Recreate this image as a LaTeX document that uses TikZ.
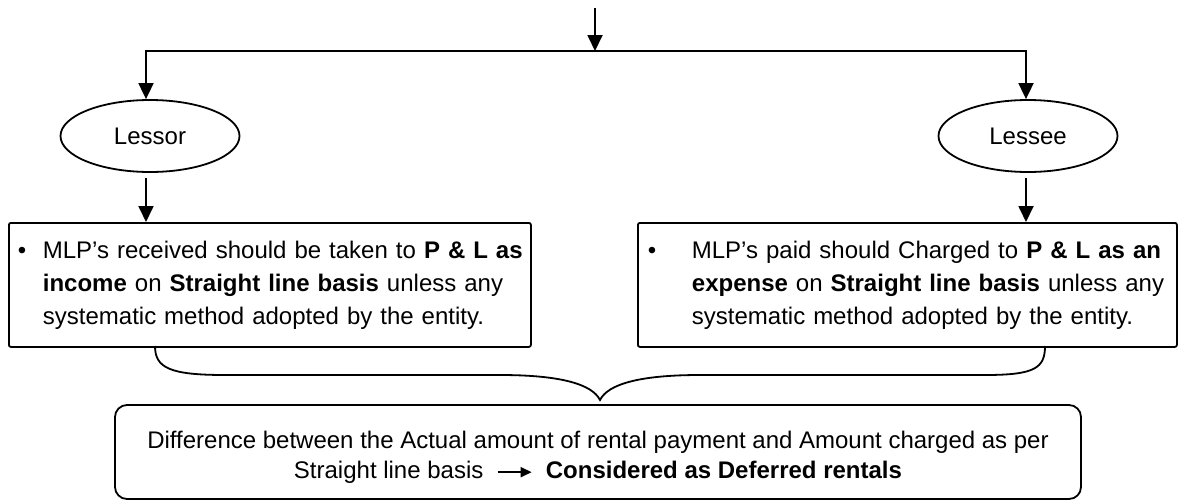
\documentclass[tikz,border=0pt]{standalone}
\usepackage{fontspec}
\setmainfont{Liberation Sans}
\usetikzlibrary{arrows.meta,shapes.geometric}
\begin{document}
\begin{tikzpicture}[x=1pt,y=-1pt,line width=1.8pt,
  arr/.style={-{Triangle[width=15pt,length=16pt]}},
  oval/.style={draw,ellipse,minimum width=179pt,minimum height=72pt,inner sep=0pt,font=\fontsize{24}{28}\selectfont},
  infobox/.style={draw,rounded corners=2pt,anchor=north west,inner ysep=0pt,align=left,minimum height=124pt,font=\fontsize{24}{33}\selectfont},
  resbox/.style={draw,rounded corners=12pt,minimum width=966pt,minimum height=94pt,align=center,font=\fontsize{24}{30}\selectfont}]
\useasboundingbox (0,0) rectangle (1178,501);

\coordinate (src) at (595,8);
\coordinate (jn) at (595,51);
\coordinate (jl) at (146,51);
\coordinate (jr) at (1026,51);

\node[oval] (lessor) at (150,136) {Lessor};
\node[oval] (lessee) at (1028,136) {Lessee};

\node[infobox,minimum width=522pt,text width=510pt,inner xsep=6pt] (lbox) at (8,222)
  {\makebox[28pt][l]{\hspace{3pt}\textbullet}\parbox[t]{480pt}{\raggedright MLP’s received should be taken to \textbf{P \& L as}\\
   \textbf{income} on \textbf{Straight line basis} unless any\\
   systematic method adopted by the entity.}};
\node[infobox,minimum width=539pt,text width=527pt,inner xsep=6pt] (rbox) at (637,222)
  {\makebox[48pt][l]{\hspace{4pt}\textbullet}\parbox[t]{478pt}{\raggedright MLP’s paid should Charged to \textbf{P \& L as an}\\
   \textbf{expense} on \textbf{Straight line basis} unless any\\
   systematic method adopted by the entity.}};

\node[resbox] (res) at (598,452)
  {\rule{0pt}{28pt}Difference between the Actual amount of rental payment and Amount charged as per\\
   Straight line basis\ \ \tikz[baseline=-0.5ex]\draw[line width=1.8pt,-{Triangle[width=10pt,length=11pt]}] (0pt,0pt) -- (34pt,0pt);\ \ \textbf{Considered as Deferred rentals}};

\draw[arr] (src) -- (jn);
\draw[arr] (jn) -- (jl) -- (jl |- lessor.north);
\draw[arr] (jn) -- (jr) -- (jr |- lessee.north);
\draw[arr,shorten <=5pt] (lessor.south -| jl) -- (lbox.north -| jl);
\draw[arr,shorten <=5pt] (lessee.south -| jr) -- (rbox.north -| jr);

\coordinate (bl) at (155,346);
\coordinate (bt) at (600,400);
\coordinate (br) at (1045,346);
\draw (bl) .. controls (155,368) and (170,375) .. (225,375) -- (500,375)
  .. controls (560,375) and (592,384) .. (bt)
  .. controls (608,384) and (640,375) .. (700,375) -- (985,375)
  .. controls (1035,375) and (1045,368) .. (br);
\end{tikzpicture}
\end{document}
